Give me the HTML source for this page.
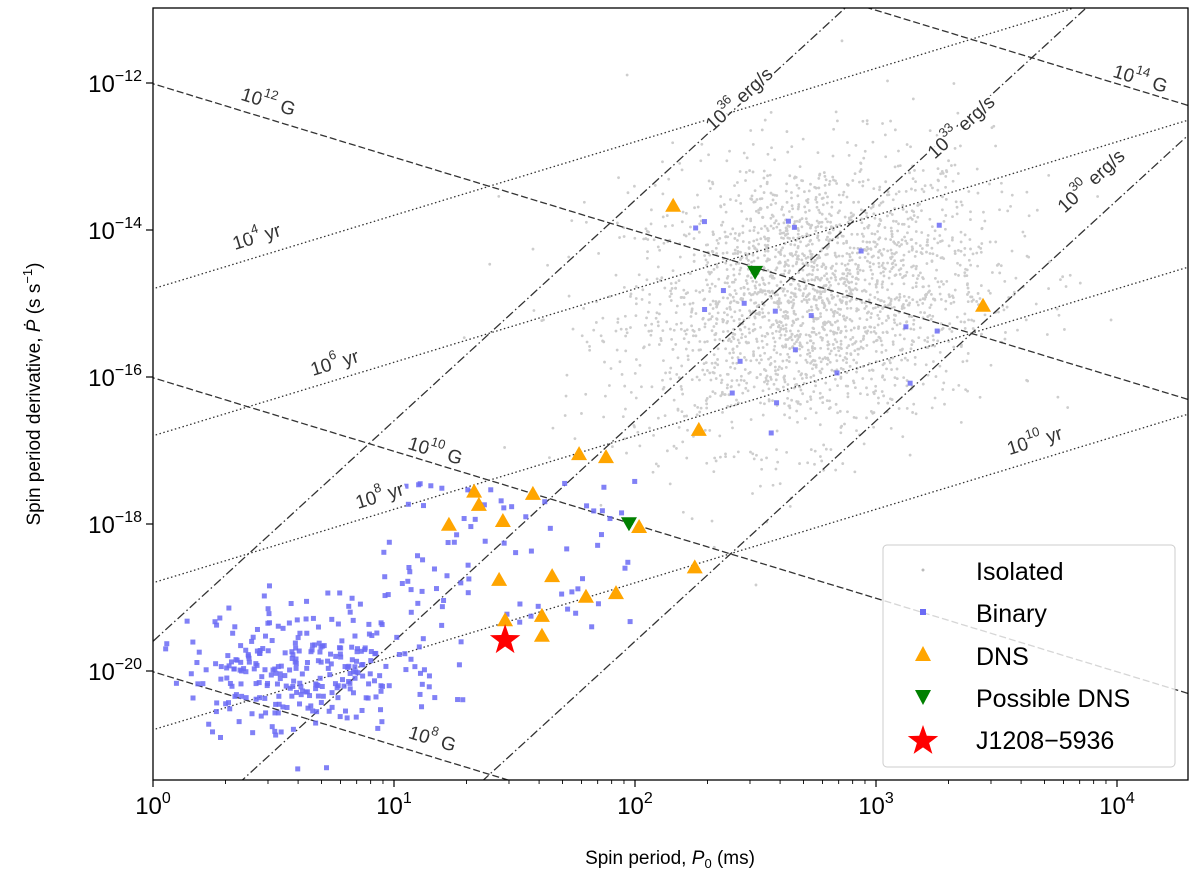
<!DOCTYPE html>
<html><head><meta charset="utf-8"><style>
html,body{margin:0;background:#fff;width:1200px;height:878px;overflow:hidden}
svg{display:block;font-family:"Liberation Sans","DejaVu Sans",sans-serif}
</style></head><body>
<svg id="chart" width="1200" height="878" viewBox="0 0 1200 878">
<defs><clipPath id="clip"><rect x="153" y="8" width="1035" height="772"/></clipPath></defs>
<rect x="0" y="0" width="1200" height="878" fill="#fff"/>
<g id="isolated" clip-path="url(#clip)"></g>
<g id="refl" clip-path="url(#clip)"></g>
<g id="binary" clip-path="url(#clip)"></g>
<g id="dns" clip-path="url(#clip)"></g>
<g id="labels"></g>
<rect x="153" y="8" width="1035" height="772" fill="none" stroke="#000" stroke-width="1.3"/>
<g id="axes"></g>
<g>
<rect x="883" y="545" width="292" height="222" rx="4" fill="#fff" fill-opacity="0.8" stroke="#ccc"/>
<g font-size="25" fill="#000">
<circle cx="923" cy="570" r="1.5" fill="#bbb"/>
<text x="976" y="580">Isolated</text>
<rect x="920" y="609" width="6" height="6" fill="#6b6bf5"/>
<text x="976" y="622">Binary</text>
<polygon points="923,646 931,661 915,661" fill="orange"/>
<text x="976" y="665">DNS</text>
<polygon points="915,690 931,690 923,705" fill="green"/>
<text x="976" y="707">Possible DNS</text>
<polygon id="legstar" fill="red"/>
<text x="976" y="749">J1208−5936</text>
</g></g>
<text x="670" y="864" font-size="19" text-anchor="middle">Spin period, <tspan font-style="italic">P</tspan><tspan font-size="13" dy="4">0</tspan><tspan dy="-4"> (ms)</tspan></text>
<text transform="translate(40,394) rotate(-90)" font-size="19" text-anchor="middle">Spin period derivative, <tspan font-style="italic">Ṗ</tspan> (s s<tspan font-size="13" dy="-8">−1</tspan><tspan dy="8">)</tspan></text>
</svg>
<script>
const dnsP=[144,2780,184,58.6,75.8,21.5,22.5,37.7,16.9,28.3,104,27.3,45.3,177,62.6,83.4,28.9,41.1,41.1];
const dnsPd=[-13.67,-15.03,-16.72,-17.05,-17.09,-17.56,-17.74,-17.59,-18.01,-17.96,-18.04,-18.76,-18.71,-18.59,-18.99,-18.94,-19.31,-19.25,-19.52];
const posP=[315,94.4];
const posPd=[-14.57,-17.99];
const starP=[28.9];
const starPd=[-19.58];
const bFields=[8,10,12,14];
const ages=[4,6,8,10];
const edots=[30,33,36];
const xTicks=[0,1,2,3,4];
const yTicks=[-20,-18,-16,-14,-12];
const NS='http://www.w3.org/2000/svg';
const X=p=>153+241*Math.log10(p);
const Y=lp=>83-73.5*(lp+12);
function el(tag,attrs,parent){const e=document.createElementNS(NS,tag);for(const k in attrs)e.setAttribute(k,attrs[k]);parent.appendChild(e);return e;}
let seed=12345;function rnd(){seed=(seed*1103515245+12345)%2147483648;return seed/2147483648;}
function gauss(){let u=rnd()||1e-9,v=rnd();return Math.sqrt(-2*Math.log(u))*Math.cos(2*Math.PI*v);}
const iso=document.getElementById('isolated');
for(let i=0;i<2400;i++){const lp=2.72+0.38*gauss();const lpd=-14.9+0.95*gauss()+0.5*(lp-2.72);
 const c=el('circle',{cx:X(Math.pow(10,lp)),cy:Y(lpd),r:1.4,fill:'#cdcdcd'},iso);
 
 }
const rl=document.getElementById('refl');
function line(f,dash,name){let pts=[];for(let lp=-0.1;lp<=4.5;lp+=0.05){pts.push(X(Math.pow(10,lp)).toFixed(1)+','+Y(f(Math.pow(10,lp)/1000)).toFixed(1));}
 const e=el('polyline',{points:pts.join(' '),fill:'none',stroke:'#333','stroke-width':1.3,'stroke-dasharray':dash},rl);
 
 }
bFields.forEach(b=>line(P=>2*(b-Math.log10(3.2e19))-Math.log10(P),'7,3','b-field-line'));
ages.forEach(a=>line(P=>Math.log10(P/(2*Math.pow(10,a)*3.156e7)),'1.5,2.5','age-line'));
edots.forEach(e=>line(P=>e+3*Math.log10(P)-Math.log10(4*Math.PI*Math.PI*1e45),'9,3,1.5,3','edot-line'));
const bin=document.getElementById('binary');
function sq(lp,lpd){const r=el('rect',{x:X(Math.pow(10,lp))-2.5,y:Y(lpd)-2.5,width:5,height:5,fill:'#6b6bf5','fill-opacity':0.85},bin);
 
 }
for(let i=0;i<250;i++){sq(0.58+0.22*gauss(),-19.95+0.45*gauss());}
for(let i=0;i<40;i++){sq(0.7+0.6*rnd(),-20.4+1.6*rnd());}
for(let i=0;i<75;i++){sq(0.95+1.05*rnd(),-19.4+2.0*rnd());}
for(let i=0;i<20;i++){sq(2.2+1.1*rnd(),-16.8+3.0*rnd());}
const dg=document.getElementById('dns');
dnsP.forEach((p,i)=>{const x=X(p),y=Y(dnsPd[i]);const t=el('polygon',{points:`${x},${y-8} ${x+8},${y+6} ${x-8},${y+6}`,fill:'orange'},dg);
 
 });
posP.forEach((p,i)=>{const x=X(p),y=Y(posPd[i]);const t=el('polygon',{points:`${x-8},${y-6} ${x+8},${y-6} ${x},${y+8}`,fill:'green'},dg);
 
 });
function star(cx,cy,R){let p=[];for(let k=0;k<10;k++){const r=k%2?R*0.4:R;const a=-Math.PI/2+k*Math.PI/5;p.push((cx+r*Math.cos(a)).toFixed(1)+','+(cy+r*Math.sin(a)).toFixed(1));}return p.join(' ');}
starP.forEach((p,i)=>{const s=el('polygon',{points:star(X(p),Y(starPd[i]),16),fill:'red'},dg);
 
 });
document.getElementById('legstar').setAttribute('points',star(923,741,16));
const lab=document.getElementById('labels');
const L=[["12"," G",268,103,17],["14"," G",1140,80,17],["10"," G",435,452,17],["8"," G",432,740,17],
["4"," yr",257,238,-17],["6"," yr",335,364,-17],["8"," yr",380,497,-17],["10"," yr",1035,442,-17],
["36"," erg/s",740,100,-42.5],["33"," erg/s",962,128,-42.5],["30"," erg/s",1092,182,-42.5]];
L.forEach(l=>{const t=el('text',{transform:`translate(${l[2]},${l[3]}) rotate(${l[4]})`,'text-anchor':'middle','dominant-baseline':'middle','font-size':19,fill:'#333',stroke:'#fff','stroke-width':5,'paint-order':'stroke'},lab);
 
 
 t.innerHTML=`10<tspan font-size="13" dy="-8">${l[0]}</tspan><tspan dy="8">${l[1]}</tspan>`;});
const ax=document.getElementById('axes');
xTicks.forEach(t=>{const x=X(Math.pow(10,t));el('line',{x1:x,x2:x,y1:780,y2:787,stroke:'#000','stroke-width':1.2},ax);
 const tx=el('text',{x:x,y:814,'text-anchor':'middle','font-size':24},ax);
 
 
 tx.innerHTML=`10<tspan font-size="16" dy="-11">${t}</tspan>`;
 for(let m=2;m<10;m++){const xm=X(m*Math.pow(10,t));if(xm<1188)el('line',{x1:xm,x2:xm,y1:780,y2:784,stroke:'#000','stroke-width':0.9},ax);}});
yTicks.forEach(t=>{const y=Y(t);el('line',{x1:146,x2:153,y1:y,y2:y,stroke:'#000','stroke-width':1.2},ax);
 const tx=el('text',{x:142,y:y+9,'text-anchor':'end','font-size':24},ax);
 
 
 tx.innerHTML=`10<tspan font-size="16" dy="-11">${t<0?'−'+(-t):t}</tspan>`;});
</script>
</body></html>
